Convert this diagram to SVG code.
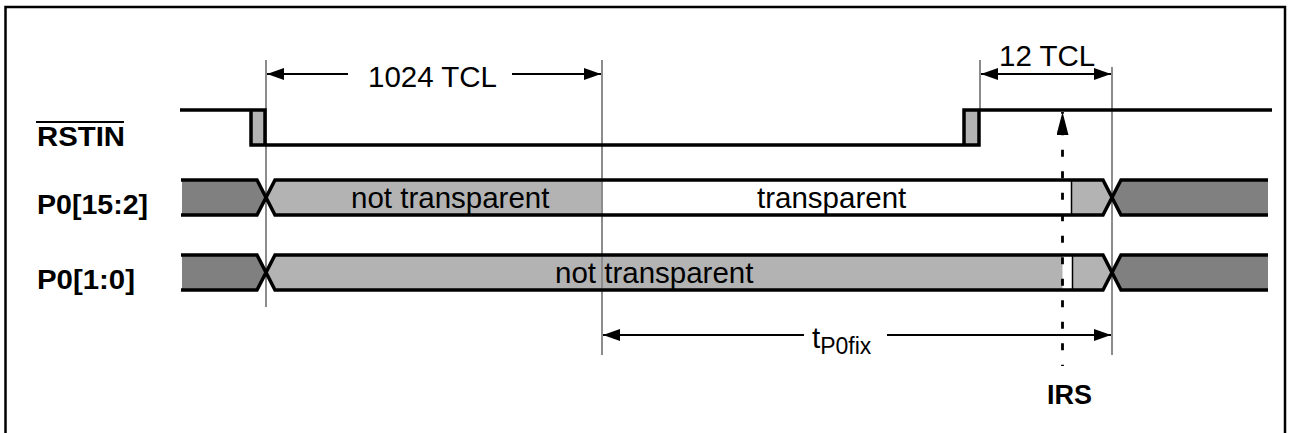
<svg xmlns="http://www.w3.org/2000/svg" width="1289" height="433" viewBox="0 0 1289 433">
  <style>
    .txt { font-family: "Liberation Sans", Arial, sans-serif; font-size: 29.5px; fill: #000; }
    .lbl { font-family: "Liberation Sans", Arial, sans-serif; font-size: 27px; font-weight: bold; fill: #000; }
    .sub { font-size: 23px; }
    .edge { fill: none; stroke: #000; stroke-width: 3.5; stroke-linejoin: miter; }
    .sep { stroke: #000; stroke-width: 1.5; }
    .dark { fill: #808080; }
    .light { fill: #b3b3b3; }
    .guide { stroke: #8c8c8c; stroke-width: 2; fill: none; }
    .dim { stroke: #000; stroke-width: 2.2; fill: none; }
  </style>
  <defs>
    <marker id="arr" markerUnits="userSpaceOnUse" markerWidth="17" markerHeight="12" refX="17" refY="6" orient="auto-start-reverse">
      <path d="M0,0 L17,6 L0,12 Z" fill="#000"/>
    </marker>
    <marker id="arrIrs" markerUnits="userSpaceOnUse" markerWidth="23" markerHeight="12" refX="23" refY="6" orient="auto">
      <path d="M0,0 L23,6 L0,12 Z" fill="#000"/>
    </marker>
  </defs>

  <rect id="frame" x="5.5" y="7" width="1279.5" height="440" fill="none" stroke="#000" stroke-width="2.5"/>

  <g id="fills">
    <rect x="251" y="110" width="14" height="35" class="light"/>
    <rect x="964" y="110" width="15" height="35" class="light"/>
    <polygon class="dark" points="182,180 257,180 266,197.5 257,215 182,215"/>
    <polygon class="light" points="266,197.5 275,180 602,180 602,215 275,215"/>
    <polygon class="light" points="1071.5,180 1103,180 1112,197.5 1103,215 1071.5,215"/>
    <polygon class="dark" points="1112,197.5 1121,180 1268,180 1268,215 1121,215"/>
    <polygon class="dark" points="182,255 257,255 266,272.5 257,290 182,290"/>
    <polygon class="light" points="266,272.5 275,255 1062.5,255 1062.5,290 275,290"/>
    <polygon class="light" points="1072.5,255 1103,255 1112,272.5 1103,290 1072.5,290"/>
    <polygon class="dark" points="1112,272.5 1121,255 1268,255 1268,290 1121,290"/>
  </g>

  <g id="guides">
    <line class="guide" x1="266" y1="60" x2="266" y2="307"/>
    <line class="guide" x1="602" y1="60" x2="602" y2="355"/>
    <line class="guide" x1="980" y1="60" x2="980" y2="110"/>
    <line class="guide" x1="1112" y1="67" x2="1112" y2="355"/>
  </g>

  <g id="RSTIN">
    <path class="edge" d="M180,110 H265 V145 H251 V110 M251,145 H979 V110 H964 V145 M964,110 H1272"/>
    <text class="lbl" x="37" y="146" textLength="88" lengthAdjust="spacingAndGlyphs">RSTIN</text>
    <line x1="36" y1="122" x2="124" y2="122" stroke="#000" stroke-width="2"/>
  </g>

  <g id="P0_15_2">
    <path class="edge" d="M181,180 H257 L275,215 H1103 L1121,180 H1268 M181,215 H257 L275,180 H1103 L1121,215 H1268"/>
    <line class="sep" x1="1071.5" y1="180" x2="1071.5" y2="215"/>
    <text class="txt" x="351" y="208">not transparent</text>
    <text class="txt" x="757" y="208">transparent</text>
    <text class="lbl" x="37" y="214" textLength="111" lengthAdjust="spacingAndGlyphs">P0[15:2]</text>
  </g>

  <g id="P0_1_0">
    <path class="edge" d="M181,255 H257 L275,290 H1103 L1121,255 H1268 M181,290 H257 L275,255 H1103 L1121,290 H1268"/>
    <line class="sep" x1="1072.5" y1="255" x2="1072.5" y2="290"/>
    <text class="txt" x="555" y="283">not transparent</text>
    <text class="lbl" x="37" y="289" textLength="98" lengthAdjust="spacingAndGlyphs">P0[1:0]</text>
  </g>

  <g id="connectors">
    <line class="dim" x1="348" y1="74" x2="267" y2="74" marker-end="url(#arr)"/>
    <line class="dim" x1="512" y1="74" x2="601" y2="74" marker-end="url(#arr)"/>
    <line class="dim" x1="981" y1="74" x2="1111" y2="74" marker-start="url(#arr)" marker-end="url(#arr)"/>
    <line class="dim" x1="804" y1="335" x2="603" y2="335" marker-end="url(#arr)"/>
    <line class="dim" x1="887" y1="335" x2="1111" y2="335" marker-end="url(#arr)"/>
    <line x1="1062.5" y1="366" x2="1062.5" y2="112" stroke="#000" stroke-width="2.8" stroke-dasharray="7 14.5" stroke-dashoffset="5.8" marker-end="url(#arrIrs)"/>
  </g>

  <g id="labels">
    <text class="txt" x="368" y="87">1024 TCL</text>
    <text class="txt" x="999" y="66">12 TCL</text>
    <text class="txt" x="812" y="348">t<tspan class="sub" dy="6">P0fix</tspan></text>
    <text class="lbl" x="1047" y="404">IRS</text>
  </g>
</svg>
